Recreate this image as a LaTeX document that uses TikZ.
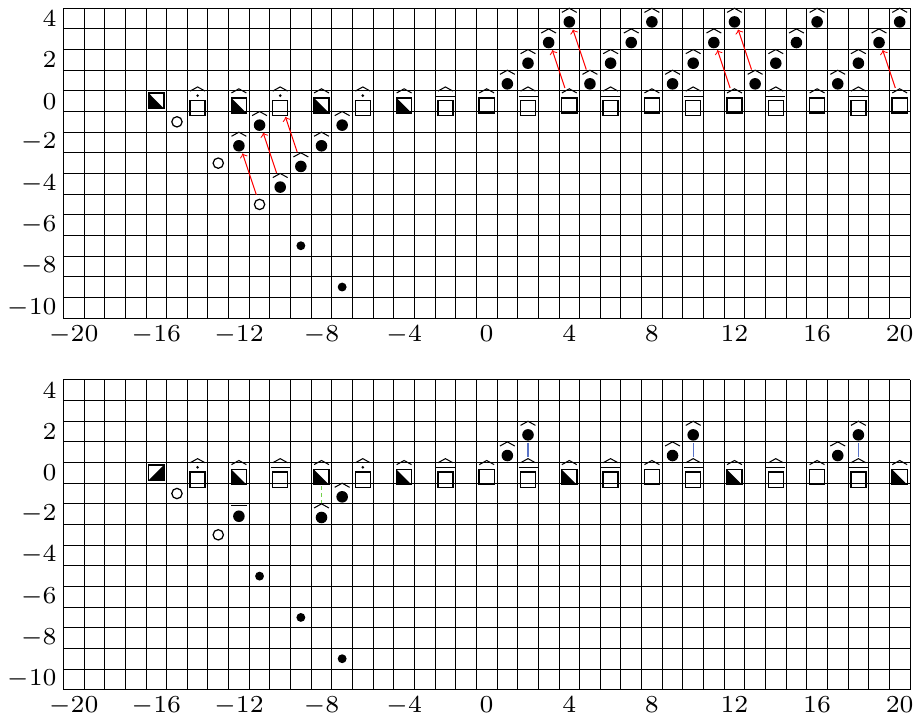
\documentclass[tikz,border=0pt]{standalone}
\usepackage{graphicx}
\newcommand\axlab[1]{\scalebox{1.69}{\fontsize{7}{8}\selectfont$#1$}}
\tikzset{
  gridline/.style={line width=0.45pt,black},
  symline/.style={line width=0.7pt},
  hatline/.style={line width=0.5pt},
  symbase/.style={shape=rectangle,inner sep=0pt,outer sep=0pt},
  ylab/.style={anchor=east,inner sep=0pt},
  xlab/.style={anchor=north,inner sep=0pt},
  redarrow/.style={red,line width=0.5pt,->},
  bluelink/.style={draw={rgb,1:red,0.35;green,0.45;blue,0.78},line width=0.6pt},
  greenlink/.style={draw={rgb,1:red,0.45;green,0.82;blue,0.30},line width=0.7pt,dash pattern=on 1.8pt off 1.6pt},
  % square with hat
  sqh/.style={symbase,minimum width=9pt,minimum height=12.8pt,path picture={
    \begin{scope}[shift={(path picture bounding box.center)}]
      \draw[hatline] (-0.36,0.4)--(0,0.6)--(0.36,0.4);
      \draw[symline] (-0.365,-0.57) rectangle (0.365,0.16);
    \end{scope}}},
  % half filled square with hat
  hfh/.style={symbase,minimum width=9pt,minimum height=12.8pt,path picture={
    \begin{scope}[shift={(path picture bounding box.center)}]
      \draw[hatline] (-0.36,0.4)--(0,0.6)--(0.36,0.4);
      \fill (-0.365,0.16)--(-0.365,-0.57)--(0.365,-0.57)--cycle;
      \draw[symline] (-0.365,-0.57) rectangle (0.365,0.16);
    \end{scope}}},
  % square with dot and hat
  sqdh/.style={symbase,minimum width=10pt,minimum height=15.2pt,path picture={
    \begin{scope}[shift={(path picture bounding box.center)}]
      \draw[hatline] (-0.36,0.49)--(0,0.69)--(0.36,0.49);
      \fill (0,0.27) circle (0.07);
      \draw[symline] (-0.365,-0.70) rectangle (0.365,0.04);
    \end{scope}}},
  % square with bar and hat
  sqbh/.style={symbase,minimum width=10pt,minimum height=15.2pt,path picture={
    \begin{scope}[shift={(path picture bounding box.center)}]
      \draw[hatline] (-0.36,0.49)--(0,0.69)--(0.36,0.49);
      \draw[hatline] (-0.46,0.24)--(0.46,0.24);
      \draw[symline] (-0.365,-0.70) rectangle (0.365,0.04);
    \end{scope}}},
  % half filled squares without hat
  hfA/.style={symbase,minimum width=9pt,minimum height=9pt,path picture={
    \begin{scope}[shift={(path picture bounding box.center)}]
      \fill (-0.37,0.39)--(-0.37,-0.36)--(0.37,-0.36)--cycle;
      \draw[symline] (-0.37,-0.36) rectangle (0.37,0.39);
    \end{scope}}},
  hfB/.style={symbase,minimum width=9pt,minimum height=9pt,path picture={
    \begin{scope}[shift={(path picture bounding box.center)}]
      \fill (-0.37,-0.36)--(0.37,-0.36)--(0.37,0.39)--cycle;
      \draw[symline] (-0.37,-0.36) rectangle (0.37,0.39);
    \end{scope}}},
  % dot with hat
  dh/.style={symbase,minimum width=9pt,minimum height=10.6pt,path picture={
    \begin{scope}[shift={(path picture bounding box.center)}]
      \draw[hatline] (-0.36,0.3)--(0,0.5)--(0.36,0.3);
      \fill (0,-0.16) circle (0.28);
    \end{scope}}},
  % dot with bar
  db/.style={symbase,minimum width=9pt,minimum height=10pt,path picture={
    \begin{scope}[shift={(path picture bounding box.center)}]
      \draw[hatline] (-0.38,0.4)--(0.38,0.4);
      \fill (0,-0.1) circle (0.28);
    \end{scope}}},
  % open circle
  oc/.style={symbase,minimum width=9pt,minimum height=9.4pt,path picture={
    \begin{scope}[shift={(path picture bounding box.center)}]
      \draw[line width=0.6pt] (0,0) circle (0.25);
    \end{scope}}},
  % small dot
  sd/.style={shape=circle,fill,inner sep=0pt,outer sep=0pt,minimum size=4.3pt},
}
\begin{document}
\begin{tikzpicture}[x=10pt,y=10pt]
\useasboundingbox (-23.57,-29.97) rectangle (20.79,4.90);
% grids and axis labels
\foreach \o/\p in {0/t,-18/b}{
  \foreach \i in {-21,...,20} \draw[gridline] (\i+0.5,\o-10.5) -- (\i+0.5,\o+4.5);
  \foreach \j in {-11,...,4} \draw[gridline] (-20.5,\o+\j+0.5) -- (20.5,\o+\j+0.5);
  \foreach \y in {4,2,...,-10} \node[ylab] (\p yl\y) at (-20.81,\o+\y) {\axlab{\y}};
  \foreach \x in {-20,-16,...,20} \node[xlab] (\p xl\x) at (\x,\o-10.84) {\axlab{\x}};
}
% ---------------- top panel ----------------
\node[hfA] (t-16y0) at (-16,0) {};
\foreach \x in {-14,-10,-6} \node[sqdh] (t\x y0) at (\x,0) {};
\foreach \x in {-12,-8,-4} \node[hfh] (t\x y0) at (\x,0) {};
\foreach \x in {-2,2,6,10,14,18} \node[sqbh] (t\x y0) at (\x,0) {};
\foreach \x in {0,4,8,12,16,20} \node[sqh] (t\x y0) at (\x,0) {};
\foreach \x/\y in {-15/-1,-13/-3,-11/-5} \node[oc] (t\x y\y) at (\x,\y) {};
\foreach \x/\y in {-12/-2,-11/-1,-10/-4,-9/-3,-8/-2,-7/-1} \node[dh] (t\x y\y) at (\x,\y) {};
\foreach \x/\y in {-9/-7,-7/-9} \node[sd] (t\x y\y) at (\x,\y) {};
\foreach \x in {1,...,20}{
  \pgfmathtruncatemacro\yy{mod(\x-1,4)+1}
  \node[dh] (t\x y\yy) at (\x,\yy) {};
}
\draw[redarrow] (t-9y-3) -- (t-10y0);
\draw[redarrow] (t-10y-4) -- (t-11y-1);
\draw[redarrow] (t-11y-5) -- (t-12y-2);
\draw[redarrow] (t4y0) -- (t3y3);
\draw[redarrow] (t5y1) -- (t4y4);
\draw[redarrow] (t12y0) -- (t11y3);
\draw[redarrow] (t13y1) -- (t12y4);
\draw[redarrow] (t20y0) -- (t19y3);
% ---------------- bottom panel ----------------
\node[hfB] (b-16y0) at (-16,-18) {};
\foreach \x in {-14,-6} \node[sqdh] (b\x y0) at (\x,-18) {};
\foreach \x in {-12,-8,-4,4,12,20} \node[hfh] (b\x y0) at (\x,-18) {};
\foreach \x in {-10,-2,2,6,10,14,18} \node[sqbh] (b\x y0) at (\x,-18) {};
\foreach \x in {0,8,16} \node[sqh] (b\x y0) at (\x,-18) {};
\foreach \x/\y in {-15/-1,-13/-3} \node[oc] (b\x y\y) at (\x,\y-18) {};
\node[db] (b-12y-2) at (-12,-20) {};
\foreach \x/\y in {-8/-2,-7/-1,1/1,2/2,9/1,10/2,17/1,18/2} \node[dh] (b\x y\y) at (\x,\y-18) {};
\foreach \x/\y in {-11/-5,-9/-7,-7/-9} \node[sd] (b\x y\y) at (\x,\y-18) {};
\draw[greenlink] (b-8y0) -- (b-8y-2);
\draw[bluelink] (b2y2) -- (b2y0);
\draw[bluelink] (b10y2) -- (b10y0);
\draw[bluelink] (b18y2) -- (b18y0);
\end{tikzpicture}
\end{document}
